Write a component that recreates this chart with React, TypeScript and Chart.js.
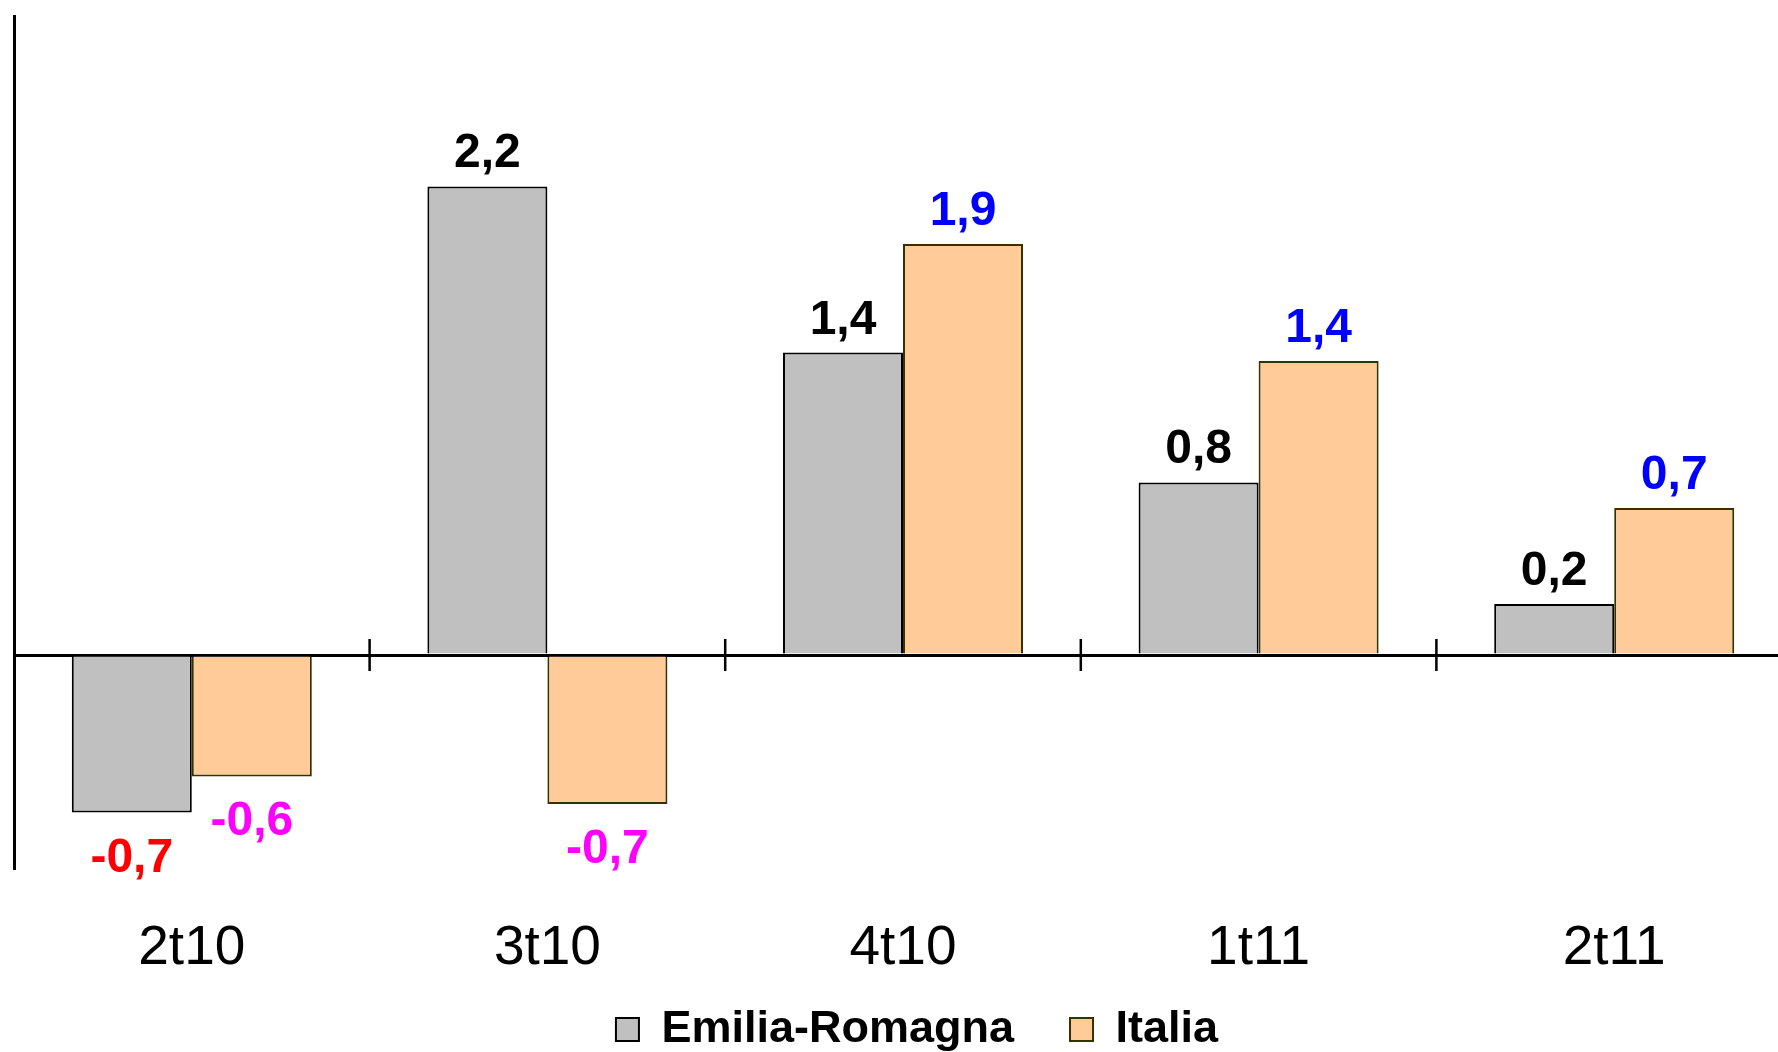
import React, { useEffect, useRef } from "react";
import { Chart, registerables } from "chart.js";

Chart.register(...registerables);

const categories = ["2t10", "3t10", "4t10", "1t11", "2t11"];
const emiliaRomagna = [-0.74, 2.2, 1.42, 0.81, 0.24];
const italia = [-0.57, -0.7, 1.93, 1.38, 0.69];
const seriesNames = ["Emilia-Romagna", "Italia"];
const yMin = -1;
const yMax = 3;

const FONT = "'Liberation Sans', Arial, sans-serif";

const fmt = (v: number) => v.toFixed(1).replace(".", ",");

const labelColors = [
  { pos: "#000000", neg: "#FF0000" },
  { pos: "#0000FF", neg: "#FF00FF" },
];

const valueLabels = {
  id: "valueLabels",
  afterDatasetsDraw(chart: any) {
    const ctx = chart.ctx;
    ctx.save();
    ctx.font = `bold 48px ${FONT}`;
    ctx.textAlign = "center";
    ctx.textBaseline = "alphabetic";
    chart.data.datasets.forEach((ds: any, di: number) => {
      const meta = chart.getDatasetMeta(di);
      meta.data.forEach((el: any, i: number) => {
        const v = ds.data[i] as number;
        if (v >= 0) {
          ctx.fillStyle = labelColors[di].pos;
          ctx.fillText(fmt(v), el.x, el.y - 19);
        } else {
          ctx.fillStyle = labelColors[di].neg;
          ctx.fillText(fmt(v), el.x, el.y + 59);
        }
      });
    });
    ctx.restore();
  },
};

const categoryTicks = {
  id: "categoryTicks",
  afterDraw(chart: any) {
    const xs = chart.scales.x;
    const ys = chart.scales.y;
    const ctx = chart.ctx;
    const y0 = ys.getPixelForValue(0);
    ctx.save();
    ctx.strokeStyle = "#000";
    ctx.lineWidth = 2.5;
    for (let i = 1; i < categories.length; i++) {
      const x = (xs.getPixelForTick(i - 1) + xs.getPixelForTick(i)) / 2;
      ctx.beginPath();
      ctx.moveTo(x, y0 - 16);
      ctx.lineTo(x, y0 + 16);
      ctx.stroke();
    }
    ctx.restore();
  },
};

export default function App() {
  const ref = useRef<HTMLCanvasElement | null>(null);
  useEffect(() => {
    if (!ref.current) return;
    Chart.defaults.font.family = FONT;
    const chart = new Chart(ref.current, {
      type: "bar",
      data: {
        labels: categories,
        datasets: [
          {
            label: seriesNames[0],
            data: emiliaRomagna,
            backgroundColor: "#C0C0C0",
            borderColor: "#000000",
            borderWidth: 2,
            categoryPercentage: 0.675,
            barPercentage: 1,
          },
          {
            label: seriesNames[1],
            data: italia,
            backgroundColor: "#FFCC99",
            borderColor: "#333300",
            borderWidth: 2,
            categoryPercentage: 0.675,
            barPercentage: 1,
          },
        ],
      },
      options: {
        responsive: false,
        animation: false,
        layout: { padding: { left: 14, top: 16, right: 0, bottom: 0 } },
        plugins: {
          legend: {
            position: "bottom",
            labels: {
              boxWidth: 23,
              boxHeight: 23,
              padding: 56,
              color: "#000",
              font: { size: 45, weight: "bold", family: FONT },
            },
          },
          tooltip: { enabled: false },
        },
        scales: {
          x: {
            grid: { display: false, drawTicks: false },
            border: { display: false },
            ticks: {
              color: "#000",
              padding: 48,
              font: { size: 55, family: FONT },
              maxRotation: 0,
              autoSkip: false,
            },
            afterFit: (s: any) => {
              s.height = 83;
              // let tick labels overflow the shortened axis box
              s._computeLabelArea = () => undefined;
            },
          },
          y: {
            min: yMin,
            max: yMax,
            ticks: { display: false, stepSize: 1 },
            grid: {
              drawTicks: false,
              lineWidth: 3,
              color: (c: any) =>
                c.tick && c.tick.value === 0 ? "#000000" : "rgba(0,0,0,0)",
            },
            border: { display: true, color: "#000", width: 3 },
            afterFit: (s: any) => {
              s.width = 0;
            },
          },
          y2: {
            position: "right",
            display: true,
            ticks: { display: false },
            grid: { display: false, drawTicks: false },
            border: { display: false },
            afterFit: (s: any) => {
              s.width = 28;
            },
          },
        },
      },
      plugins: [valueLabels, categoryTicks],
    });
    return () => chart.destroy();
  }, []);

  return (
    <div
      style={{
        position: "fixed",
        left: 0,
        top: 0,
        width: 1778,
        height: 1052,
        overflow: "hidden",
        background: "#fff",
      }}
    >
      <canvas ref={ref} width={1820} height={1062} style={{ display: "block" }} />
    </div>
  );
}
